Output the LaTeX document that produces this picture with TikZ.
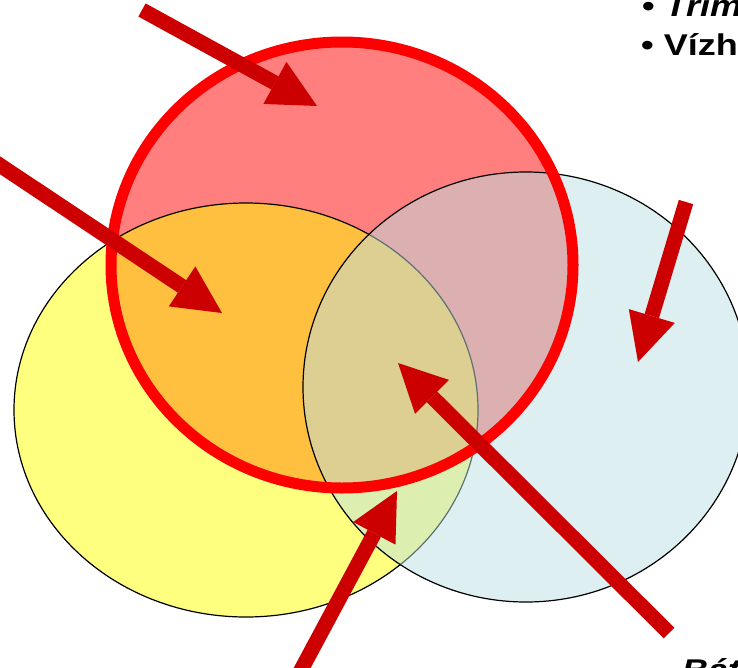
\documentclass[tikz,border=0pt]{standalone}
\usepackage{fontspec}
\setmainfont{Liberation Sans}
\usetikzlibrary{arrows.meta}
\definecolor{setyellow}{RGB}{255,255,0}
\definecolor{setblue}{RGB}{187,224,228}
\definecolor{arrowred}{RGB}{204,0,0}

\begin{document}
\begin{tikzpicture}[x=1pt,y=-1pt]
	\tikzstyle{every node}+=[inner sep=0pt]
	\tikzstyle{pointer}=[arrowred, line width=15pt, -{Triangle[length=48pt,width=48pt,line width=0pt]}]
	\tikzstyle{label}=[anchor=base west, font=\fontsize{30}{36}\selectfont]
	\useasboundingbox (0,0) rectangle (738,667);
	\clip (0,0) rectangle (738,667);
	% sets
	\fill [red, fill opacity=0.5] (342,265) ellipse (231pt and 223pt);
	\draw [black, line width=1.2pt, fill=setyellow, fill opacity=0.5] (246,410) ellipse (232pt and 207pt);
	\draw [black, line width=1.2pt, fill=setblue, fill opacity=0.5] (526,387) ellipse (223pt and 215pt);
	\draw [red, line width=11pt] (342,265) ellipse (231pt and 223pt);
	% arrow ends
	\coordinate (a1) at (142,10);
	\coordinate (t1) at (317,106);
	\coordinate (a2) at (-20,152);
	\coordinate (t2) at (222,313);
	\coordinate (a3) at (686,202);
	\coordinate (t3) at (638,362);
	\coordinate (a4) at (669,633);
	\coordinate (t4) at (398,363);
	\coordinate (a5) at (293,685);
	\coordinate (t5) at (397,491);
	\foreach \i in {1,...,5}
		\draw [pointer] (a\i) -- (t\i);
	% texts
	\node (trim) [label] at (642,16) {\scalebox{1.2}[1]{\textbf{• \textit{Trim}}}};
	\node (vizh) [label] at (641,55) {\scalebox{1.2}[1]{\textbf{• Vízh}}};
	\node (bat) [label] at (682,680) {\scalebox{1.2}[1]{\textbf{\textit{Bát}}}};
\end{tikzpicture}
\end{document}
